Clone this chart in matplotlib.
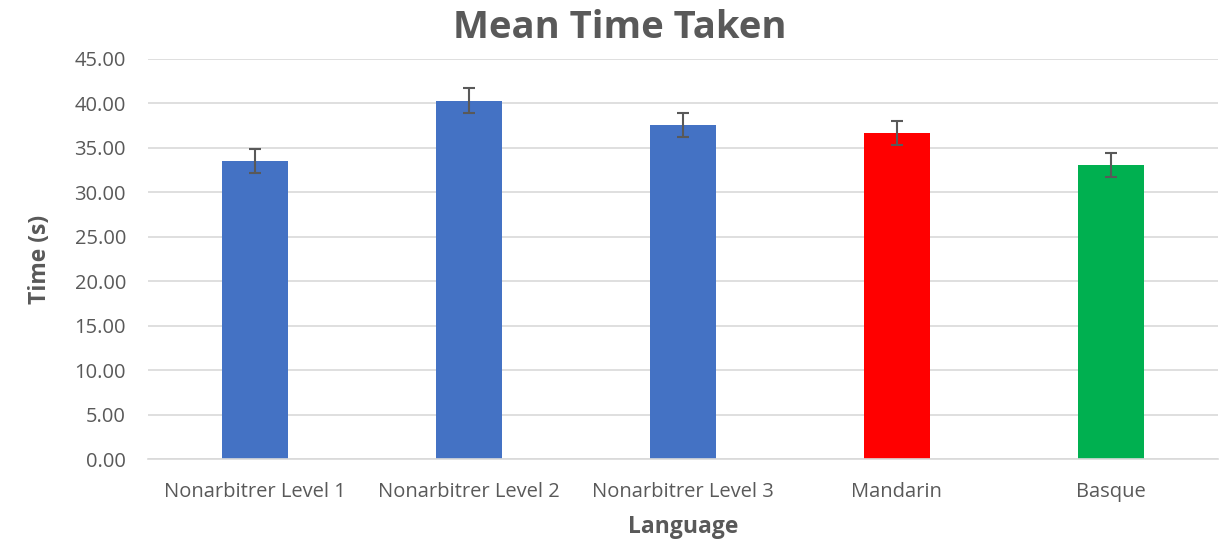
import matplotlib.pyplot as plt
import numpy as np

# data
languages = ['Nonarbitrer Level 1', 'Nonarbitrer Level 2', 'Nonarbitrer Level 3', 'Mandarin', 'Basque']
mean_time = [33.48, 40.29, 37.52, 36.62, 33.03]
err = [1.37, 1.37, 1.35, 1.35, 1.37]
colors = ['#4472C4', '#4472C4', '#4472C4', '#FF0000', '#00B050']

txt = '#595959'
plt.rcParams['font.family'] = ['Open Sans', 'DejaVu Sans']

fig = plt.figure(figsize=(12.25, 5.43), dpi=100)
ax = fig.add_axes([0.121, 0.154, 0.873, 0.738])

x = np.arange(len(languages))
ax.bar(x, mean_time, width=0.31, color=colors, zorder=2)
ax.errorbar(x, mean_time, yerr=err, fmt='none', ecolor=txt, elinewidth=1.5,
            capsize=4.5, capthick=1.5, zorder=3)

ax.set_xlim(-0.5, len(languages) - 0.5)
ax.set_ylim(0, 45)
ax.set_yticks(np.arange(0, 46, 5))
ax.set_yticklabels([f'{v:.2f}' for v in np.arange(0, 46, 5)])
ax.set_xticks(x)
ax.set_xticklabels(languages)
ax.tick_params(axis='both', length=0, labelsize=14.5, colors=txt)
ax.tick_params(axis='y', pad=16)
ax.tick_params(axis='x', pad=16)

ax.grid(axis='y', color='#D9D9D9', linewidth=1.2, zorder=0)
for s in ['top', 'right', 'left']:
    ax.spines[s].set_visible(False)
ax.spines['bottom'].set_color('#D9D9D9')
ax.spines['bottom'].set_linewidth(1.2)

fig.text(0.506, 0.948, 'Mean Time Taken', fontsize=27.5, fontweight='bold', color=txt,
         ha='center', va='center')
ax.set_xlabel('Language', fontsize=16.5, fontweight='bold', color=txt, labelpad=10)
ax.set_ylabel('Time (s)', fontsize=16.5, fontweight='bold', color=txt, labelpad=16)

fig.savefig('out.png', dpi=100)
